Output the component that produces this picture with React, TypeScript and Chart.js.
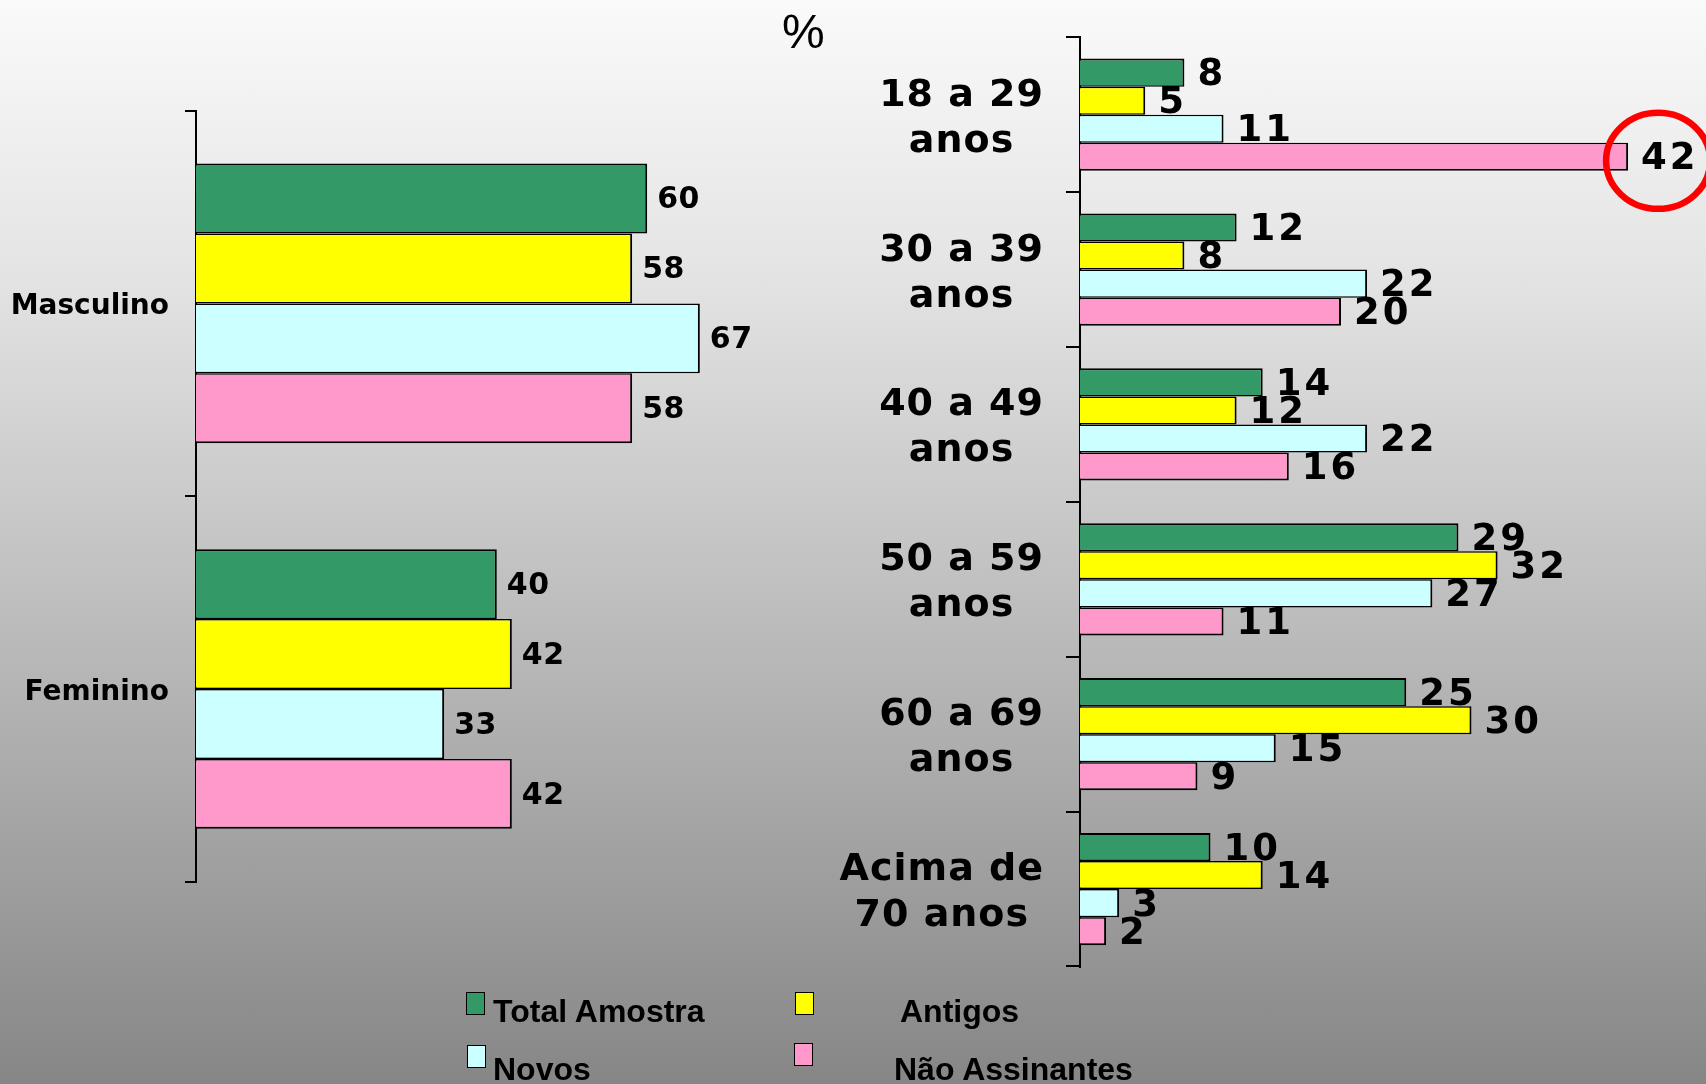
import React, { useEffect, useRef } from 'react';
import { Chart, registerables } from 'chart.js';

Chart.register(...registerables);

// ---------- data ----------
const seriesNames = ['Total Amostra', 'Antigos', 'Novos', 'Não Assinantes'];
const seriesColors = ['#339966', '#FFFF00', '#CCFFFF', '#FF99CC'];

const genderLabels = ['Masculino', 'Feminino'];
const genderTotal = [60, 40];
const genderAntigos = [58, 42];
const genderNovos = [67, 33];
const genderNao = [58, 42];

const ageLabels = [
  ['18 a 29', 'anos'],
  ['30 a 39', 'anos'],
  ['40 a 49', 'anos'],
  ['50 a 59', 'anos'],
  ['60 a 69', 'anos'],
  ['Acima de', '70 anos'],
];
const ageTotal = [8, 12, 14, 29, 25, 10];
const ageAntigos = [5, 8, 12, 32, 30, 14];
const ageNovos = [11, 22, 22, 27, 15, 3];
const ageNao = [42, 20, 16, 11, 9, 2];

const unitLabel = '%';
const highlighted = { series: 3, index: 0 };

// ---------- layout ----------
const W = 1706;
const H = 1084;
const FONT = '"DejaVu Sans"';

function makeDatasets(series: number[][]) {
  return seriesNames.map((name, k) => ({
    label: name,
    data: series[k],
    backgroundColor: seriesColors[k],
    borderColor: '#000000',
    borderWidth: (c: any) => ({
      top: c.datasetIndex === 0 ? 2 : 1.5,
      bottom: c.datasetIndex === 3 ? 2 : 1.5,
      right: 2,
      left: 0,
    }),
    borderSkipped: 'start',
    barPercentage: 1,
    categoryPercentage: 0.725,
  }));
}

function valueLabelPlugin(font: string, gap: number, dy: number, spacing: string) {
  return {
    id: 'valueLabels',
    afterDatasetsDraw(chart: any) {
      const ctx = chart.ctx;
      ctx.save();
      ctx.font = font;
      (ctx as any).letterSpacing = spacing;
      ctx.fillStyle = '#000';
      ctx.textAlign = 'left';
      ctx.textBaseline = 'middle';
      chart.data.datasets.forEach((ds: any, di: number) => {
        const meta = chart.getDatasetMeta(di);
        meta.data.forEach((el: any, i: number) => {
          ctx.fillText(String(ds.data[i]), el.x + gap, el.y + dy);
        });
      });
      (ctx as any).letterSpacing = '0px';
      ctx.restore();
    },
  };
}

const ageLabelPlugin = {
  id: 'ageLabels',
  afterDraw(chart: any) {
    const ctx = chart.ctx;
    const y = chart.scales.y;
    ctx.save();
    ctx.font = `bold 38px ${FONT}`;
    (ctx as any).letterSpacing = '1px';
    ctx.fillStyle = '#000';
    ctx.textAlign = 'center';
    ctx.textBaseline = 'alphabetic';
    const right = y.right - 36;
    ageLabels.forEach((lines, i) => {
      const w = Math.max(...lines.map((l) => ctx.measureText(l).width));
      const cx = right - w / 2;
      const yc = y.getPixelForValue(i);
      lines.forEach((l, j) => ctx.fillText(l, cx, yc - 9 + j * 46));
    });
    (ctx as any).letterSpacing = '0px';
    ctx.restore();
  },
};

const highlightPlugin = {
  id: 'highlight',
  afterDraw(chart: any) {
    const el = chart.getDatasetMeta(highlighted.series).data[highlighted.index];
    if (!el) return;
    const ctx = chart.ctx;
    ctx.save();
    ctx.beginPath();
    ctx.ellipse(el.x + 30, el.y + 4, 52, 48, 0, 0, Math.PI * 2);
    ctx.strokeStyle = '#FF0000';
    ctx.lineWidth = 6.5;
    ctx.stroke();
    ctx.restore();
  },
};

export default function App() {
  const leftRef = useRef<HTMLCanvasElement>(null);
  const rightRef = useRef<HTMLCanvasElement>(null);

  useEffect(() => {
    document.body.style.margin = '0';
    const left = new Chart(leftRef.current as HTMLCanvasElement, {
      type: 'bar',
      data: {
        labels: genderLabels,
        datasets: makeDatasets([genderTotal, genderAntigos, genderNovos, genderNao]) as any,
      },
      options: {
        indexAxis: 'y',
        animation: false,
        responsive: false,
        devicePixelRatio: 1,
        events: [],
        layout: { padding: { left: 0, top: 110.6, bottom: H - 881.8, right: W - (196 + 7.52 * 80) } },
        plugins: { legend: { display: false }, tooltip: { enabled: false } },
        scales: {
          x: { type: 'linear', min: 0, max: 80, display: false },
          y: {
            type: 'category',
            position: 'left',
            offset: true,
            grid: { display: true, drawOnChartArea: false, drawTicks: true, tickLength: 11, color: '#000', lineWidth: 2, offset: true },
            border: { display: true, color: '#000', width: 2 },
            ticks: { color: '#000', font: { family: 'DejaVu Sans', weight: 'bold', size: 28 }, padding: 16, labelOffset: 3.5 },
            afterFit: (s: any) => { s.width = 196; },
          },
        },
      } as any,
      plugins: [valueLabelPlugin(`bold 30px ${FONT}`, 10, 2, '0.5px')],
    });

    const right = new Chart(rightRef.current as HTMLCanvasElement, {
      type: 'bar',
      data: {
        labels: ageLabels.map((l) => l.join(' ')),
        datasets: makeDatasets([ageTotal, ageAntigos, ageNovos, ageNao]) as any,
      },
      options: {
        indexAxis: 'y',
        animation: false,
        responsive: false,
        devicePixelRatio: 1,
        events: [],
        layout: { padding: { left: 0, top: 37.3, bottom: H - 966.5, right: W - (1080 + 13.05 * 45) } },
        plugins: { legend: { display: false }, tooltip: { enabled: false } },
        scales: {
          x: { type: 'linear', min: 0, max: 45, display: false },
          y: {
            type: 'category',
            position: 'left',
            offset: true,
            grid: { display: true, drawOnChartArea: false, drawTicks: true, tickLength: 14, color: '#000', lineWidth: 2, offset: true },
            border: { display: true, color: '#000', width: 2 },
            ticks: { display: false },
            afterFit: (s: any) => { s.width = 1080; },
          },
        },
      } as any,
      plugins: [valueLabelPlugin(`bold 37px ${FONT}`, 13, 3, '3px'), ageLabelPlugin, highlightPlugin],
    });

    return () => {
      left.destroy();
      right.destroy();
    };
  }, []);

  const legendPos = [
    { box: [466, 992], text: [493, 1022] },
    { box: [795, 992], text: [900, 1022] },
    { box: [467, 1045], text: [493, 1080] },
    { box: [794, 1043], text: [894, 1080] },
  ];
  const legendFont = 32;

  return (
    <div
      style={{
        position: 'absolute',
        left: 0,
        top: 0,
        width: W,
        height: H,
        overflow: 'hidden',
        background: 'linear-gradient(to bottom, #fafafa 0%, #e4e4e4 25%, #c5c5c5 50%, #a6a6a6 75%, #868686 100%)',
      }}
    >
      <canvas ref={leftRef} width={W} height={H} style={{ position: 'absolute', left: 0, top: 0, width: W, height: H }} />
      <canvas ref={rightRef} width={W} height={H} style={{ position: 'absolute', left: 0, top: 0, width: W, height: H }} />
      <div
        style={{
          position: 'absolute',
          left: 782,
          top: 49 - 40.6,
          fontFamily: '"Liberation Sans", Arial, sans-serif',
          fontSize: 48,
          lineHeight: '48px',
          color: '#000',
          whiteSpace: 'nowrap',
        }}
      >
        {unitLabel}
      </div>
      {seriesNames.map((name, k) => (
        <React.Fragment key={name}>
          <div
            style={{
              position: 'absolute',
              left: legendPos[k].box[0],
              top: legendPos[k].box[1],
              width: 19,
              height: 23,
              boxSizing: 'border-box',
              border: '1.5px solid #000',
              background: seriesColors[k],
            }}
          />
          <div
            style={{
              position: 'absolute',
              left: legendPos[k].text[0],
              top: legendPos[k].text[1] - 27.1,
              fontFamily: '"Liberation Sans", Arial, sans-serif',
              fontWeight: 'bold',
              fontSize: legendFont,
              lineHeight: `${legendFont}px`,
              color: '#000',
              whiteSpace: 'nowrap',
            }}
          >
            {name}
          </div>
        </React.Fragment>
      ))}
    </div>
  );
}
